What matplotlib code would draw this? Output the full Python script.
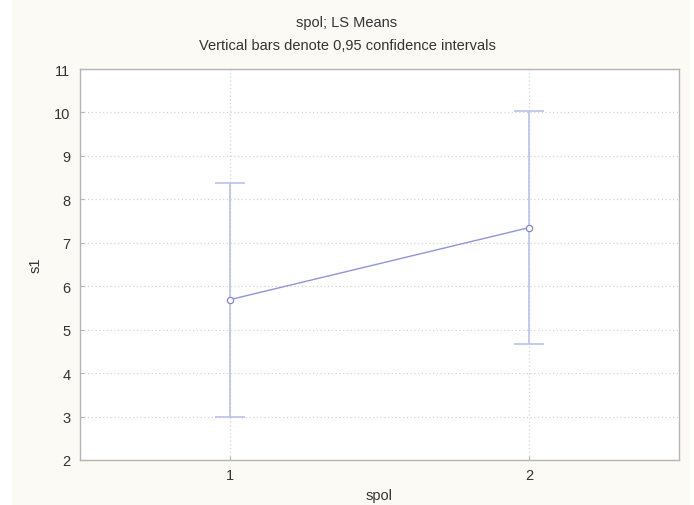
import matplotlib.pyplot as plt
from matplotlib.patches import Rectangle

# LS means of s1 by spol, with 0.95 confidence limits
spol = [1, 2]
s1_mean = [5.69, 7.35]
ci_low = [2.99, 4.67]
ci_high = [8.38, 10.03]

x_ticks = [1, 2]
y_ticks = [2, 3, 4, 5, 6, 7, 8, 9, 10, 11]

plt.rcParams['font.family'] = ['Liberation Sans', 'DejaVu Sans']

fig = plt.figure(figsize=(6.94, 5.06), dpi=100, facecolor='white')
# off-white panel behind the plot, like the Statistica window
fig.patches.append(Rectangle((12 / 694, 0), 678 / 694, 1, transform=fig.transFigure,
                             facecolor='#fbfaf4', edgecolor='none', zorder=-10))

ax = fig.add_axes([80 / 694, 1 - 461 / 506, 599 / 694, 391 / 506])
ax.set_facecolor('white')

err_low = [m - lo for m, lo in zip(s1_mean, ci_low)]
err_high = [hi - m for m, hi in zip(s1_mean, ci_high)]
ax.errorbar(spol, s1_mean, yerr=[err_low, err_high], fmt='none',
            ecolor='#bcc0ee', elinewidth=1.2, capsize=10.5, capthick=1.2, zorder=3)
ax.plot(spol, s1_mean, color='#9095da', lw=1.0, marker='o', ms=4.5,
        mfc='white', mec='#8086d2', mew=0.9, zorder=4)

ax.set_xlim(0.5, 2.5)
ax.set_ylim(2, 11)
ax.set_xticks(x_ticks)
ax.set_yticks(y_ticks)
ax.grid(True, linestyle=(0, (1, 2)), color='#d4d4d4', lw=0.9)
ax.set_axisbelow(True)

for side in ['left', 'right', 'top', 'bottom']:
    ax.spines[side].set_color('#b5b5b5')
    ax.spines[side].set_linewidth(1.0)
ax.tick_params(direction='in', length=3, color='#b5b5b5', labelsize=10.5,
               labelcolor='#333333')
ax.tick_params(axis='y', pad=7)
ax.tick_params(axis='x', pad=6)

ax.set_xlabel('spol', fontsize=10.5, color='#333333', labelpad=4)
ax.set_ylabel('s1', fontsize=10.5, color='#333333', labelpad=8)

fig.text(0.5, 1 - 23 / 506, 'spol; LS Means', ha='center', va='center',
         fontsize=10.5, color='#333333')
fig.text(0.5, 1 - 46 / 506, 'Vertical bars denote 0,95 confidence intervals',
         ha='center', va='center', fontsize=10.5, color='#333333')

fig.savefig('out.png', dpi=100, facecolor=fig.get_facecolor())
